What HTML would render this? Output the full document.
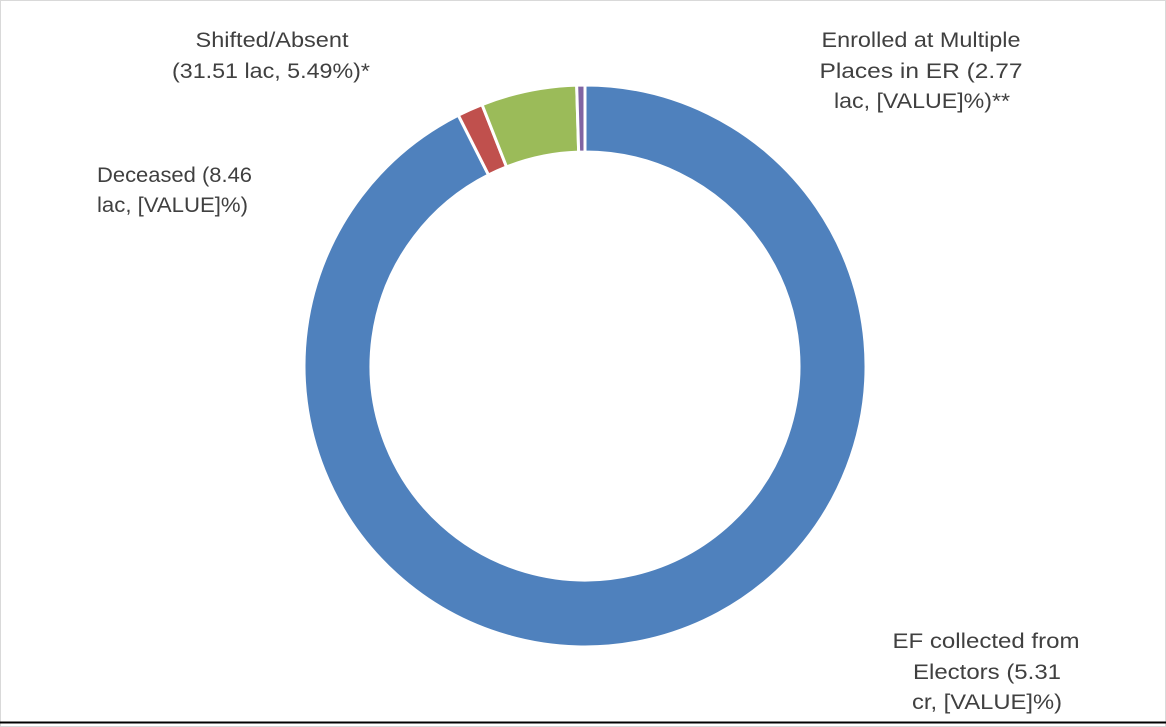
<!DOCTYPE html>
<html><head><meta charset="utf-8"><style>
html,body{margin:0;padding:0;background:#fff;}
svg{display:block;}
text{font-family:"Liberation Sans",sans-serif;font-size:21px;fill:#404040;}
</style></head><body>
<svg width="1166" height="727" viewBox="0 0 1166 727" xmlns="http://www.w3.org/2000/svg">
<rect x="0.5" y="0.5" width="1165" height="726" fill="#fff" stroke="#d9d9d9"/>
<line x1="0" y1="722.5" x2="1166" y2="722.5" stroke="#000" stroke-width="2"/>
<g id="donut" stroke="#fff" stroke-width="3" stroke-linejoin="round"></g>
<text x="272" y="47" text-anchor="middle" textLength="153" lengthAdjust="spacingAndGlyphs">Shifted/Absent</text>
<text x="271" y="78" text-anchor="middle" textLength="198" lengthAdjust="spacingAndGlyphs">(31.51 lac, 5.49%)*</text>
<text x="97" y="182" textLength="155" lengthAdjust="spacingAndGlyphs">Deceased (8.46</text>
<text x="97" y="212" textLength="151" lengthAdjust="spacingAndGlyphs">lac, [VALUE]%)</text>
<text x="921" y="47" text-anchor="middle" textLength="199" lengthAdjust="spacingAndGlyphs">Enrolled at Multiple</text>
<text x="921" y="78" text-anchor="middle" textLength="203" lengthAdjust="spacingAndGlyphs">Places in ER (2.77</text>
<text x="922" y="108" text-anchor="middle" textLength="176" lengthAdjust="spacingAndGlyphs">lac, [VALUE]%)**</text>
<text x="986" y="648" text-anchor="middle" textLength="187" lengthAdjust="spacingAndGlyphs">EF collected from</text>
<text x="987" y="679" text-anchor="middle" textLength="148" lengthAdjust="spacingAndGlyphs">Electors (5.31</text>
<text x="987" y="709" text-anchor="middle" textLength="150" lengthAdjust="spacingAndGlyphs">cr, [VALUE]%)</text>
</svg>
<script>
(function(){
var cx=585,cy=366,R=281,r=214;
var slices=[[0,333.2,"#4f81bd"],[333.2,338.5,"#c0504d"],[338.5,358.3,"#9bbb59"],[358.3,360,"#8064a2"]];
function pt(a,rad){var t=(a-90)*Math.PI/180;return [cx+rad*Math.cos(t),cy+rad*Math.sin(t)];}
var g=document.getElementById("donut"),ns="http://www.w3.org/2000/svg";
slices.forEach(function(s){
var a0=s[0],a1=s[1],lg=(a1-a0)>180?1:0;
var p1=pt(a0,R),p2=pt(a1,R),p3=pt(a1,r),p4=pt(a0,r);
var d="M"+p1+" A"+R+" "+R+" 0 "+lg+" 1 "+p2+" L"+p3+" A"+r+" "+r+" 0 "+lg+" 0 "+p4+" Z";
var p=document.createElementNS(ns,"path");p.setAttribute("d",d);p.setAttribute("fill",s[2]);g.appendChild(p);
});
})();
</script>
</body></html>
